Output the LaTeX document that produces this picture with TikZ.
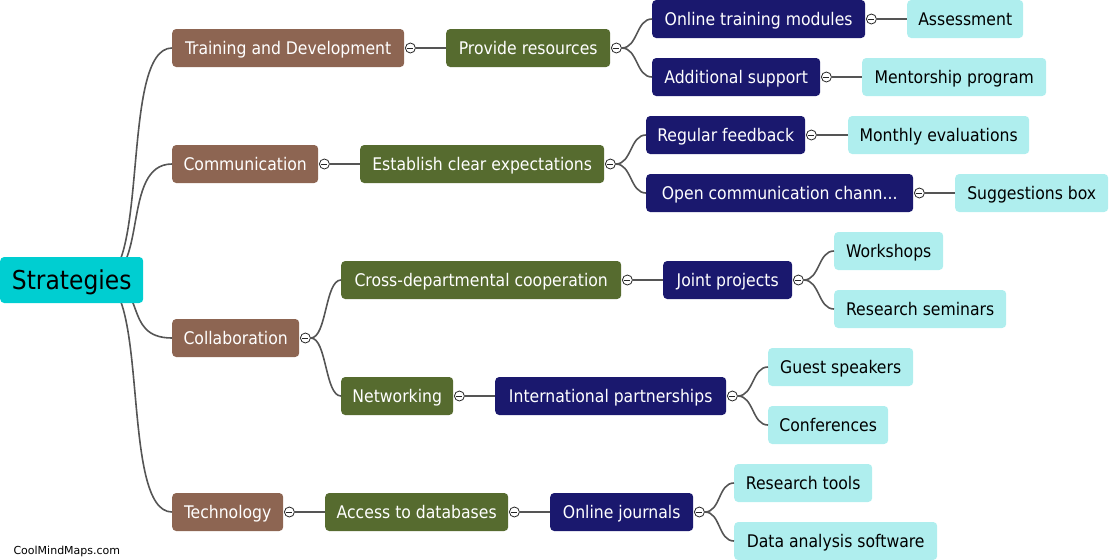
\documentclass[tikz,border=0pt]{standalone}
\usepackage{fontspec}
\setmainfont{DejaVu Sans}
\newfontfamily\mapfont{DejaVu Sans Condensed}
\usetikzlibrary{positioning}
\pgfdeclarelayer{bg}
\pgfsetlayers{bg,main}

\definecolor{rootcyan}{RGB}{0,206,209}
\definecolor{topicbrown}{RGB}{141,101,82}
\definecolor{subgreen}{RGB}{86,107,47}
\definecolor{itemnavy}{RGB}{26,24,110}
\definecolor{leafcyan}{RGB}{175,238,238}
\definecolor{linegray}{RGB}{85,85,85}

\begin{document}
\begin{tikzpicture}[x=1pt,y=-1pt,
  box/.style={rounded corners=4pt, minimum height=38pt, inner xsep=0pt, anchor=west,
    text height=12.7pt, text depth=0pt, font=\mapfont\fontsize{17.4}{20}\selectfont},
  root/.style={box, fill=rootcyan, text=black, minimum height=46pt, text height=18.6pt,
    font=\mapfont\fontsize{26}{30}\selectfont},
  topic/.style={box, fill=topicbrown, text=white},
  sub/.style={box, fill=subgreen, text=white},
  item/.style={box, fill=itemnavy, text=white},
  leaf/.style={box, fill=leafcyan, text=black},
  knob/.style={circle, draw=black!85, fill=white, line width=0.8pt, inner sep=0pt, minimum size=10pt,
    path picture={\draw[line width=1pt] ([xshift=-3pt]path picture bounding box.center)
      -- ([xshift=3pt]path picture bounding box.center);}},
  link/.style={draw=linegray, line width=1.6pt},
  curvelink/.style={link, to path={.. controls +(16,0) and +(-16,0) .. (\tikztotarget)}}
]
\useasboundingbox (0,0) rectangle (1120,560);

% root and first level
\node[root, minimum width=143pt] (strat) at (0,280) {Strategies};
\node[topic, minimum width=232pt] (train) at (172,48) {Training and Development};
\node[topic, minimum width=146pt] (comm) at (172,164) {Communication};
\node[topic, minimum width=127pt] (collab) at (172,338) {Collaboration};
\node[topic, minimum width=111pt] (tech) at (172,512) {Technology};

% second level
\node[sub, minimum width=164pt] (resources) at (446,48) {Provide resources};
\node[sub, minimum width=244pt] (expect) at (360,164) {Establish clear expectations};
\node[sub, minimum width=280pt] (cross) at (341,280) {Cross-departmental cooperation};
\node[sub, minimum width=112pt] (network) at (341,396) {Networking};
\node[sub, minimum width=183pt] (access) at (325,512) {Access to databases};

% third level
\node[item, minimum width=213pt] (modules) at (652,19) {Online training modules};
\node[item, minimum width=168pt] (support) at (652,77) {Additional support};
\node[item, minimum width=159pt] (feedback) at (646,135) {Regular feedback};
\node[item, minimum width=267pt] (channels) at (646,193) {Open communication chann...};
\node[item, minimum width=129pt] (joint) at (663,280) {Joint projects};
\node[item, minimum width=231pt] (intl) at (495,396) {International partnerships};
\node[item, minimum width=143pt] (journals) at (550,512) {Online journals};

% leaves
\node[leaf, minimum width=116pt] (assess) at (907,19) {Assessment};
\node[leaf, minimum width=184pt] (mentor) at (862,77) {Mentorship program};
\node[leaf, minimum width=181pt] (monthly) at (848,135) {Monthly evaluations};
\node[leaf, minimum width=153pt] (sugg) at (955,193) {Suggestions box};
\node[leaf, minimum width=109pt] (workshops) at (834,251) {Workshops};
\node[leaf, minimum width=172pt] (seminars) at (834,309) {Research seminars};
\node[leaf, minimum width=145pt] (guests) at (768,367) {Guest speakers};
\node[leaf, minimum width=120pt] (confs) at (768,425) {Conferences};
\node[leaf, minimum width=138pt] (tools) at (734,483) {Research tools};
\node[leaf, minimum width=203pt] (software) at (734,541) {Data analysis software};

% collapse knobs
\foreach \n in {train,comm,collab,tech,resources,expect,cross,network,access,
  modules,support,feedback,channels,joint,intl,journals}
  \node[knob] (\n-k) at ([xshift=6pt]\n.east) {};

\begin{pgfonlayer}{bg}
\coordinate (hub) at (100,280);
\foreach \n in {train,comm,collab,tech}
  \draw[link] (hub) .. controls +(50,0) and +(-52,0) .. (\n.west);
\end{pgfonlayer}

\draw[link] (train-k) -- (resources);
\draw[link] (comm-k) -- (expect);
\draw[link] (tech-k) -- (access);
\draw[curvelink] (collab-k.east) to (cross.west);
\draw[curvelink] (collab-k.east) to (network.west);
\draw[curvelink] (resources-k.east) to (modules.west);
\draw[curvelink] (resources-k.east) to (support.west);
\draw[curvelink] (expect-k.east) to (feedback.west);
\draw[curvelink] (expect-k.east) to (channels.west);
\draw[link] (cross-k) -- (joint);
\draw[link] (network-k) -- (intl);
\draw[link] (access-k) -- (journals);
\draw[link] (modules-k) -- (assess);
\draw[link] (support-k) -- (mentor);
\draw[link] (feedback-k) -- (monthly);
\draw[link] (channels-k) -- (sugg);
\draw[curvelink] (joint-k.east) to (workshops.west);
\draw[curvelink] (joint-k.east) to (seminars.west);
\draw[curvelink] (intl-k.east) to (guests.west);
\draw[curvelink] (intl-k.east) to (confs.west);
\draw[curvelink] (journals-k.east) to (tools.west);
\draw[curvelink] (journals-k.east) to (software.west);

\node[anchor=west, font=\fontsize{11}{13}\selectfont] (mark) at (10,551) {CoolMindMaps.com};
\end{tikzpicture}
\end{document}
